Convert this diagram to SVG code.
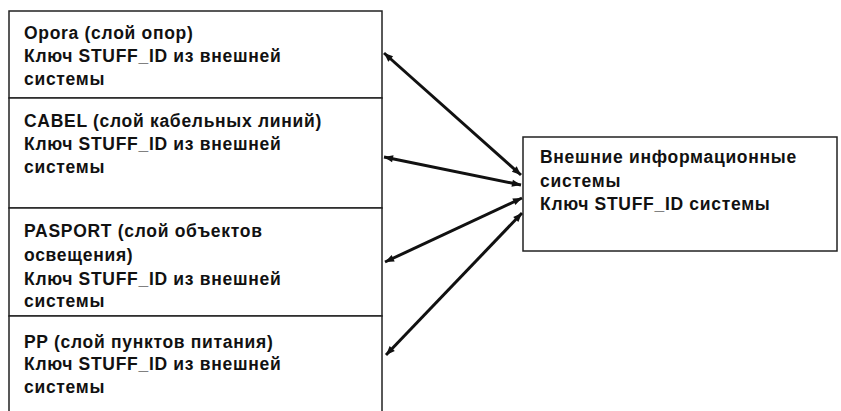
<svg xmlns="http://www.w3.org/2000/svg" width="841" height="411" viewBox="0 0 841 411">
<defs>
<marker id="ah" viewBox="0 0 10 10" refX="10" refY="5" markerWidth="13" markerHeight="9" markerUnits="userSpaceOnUse" orient="auto-start-reverse">
<path d="M0,1 L10,5 L0,9 z" fill="#111"/>
</marker>
<style>
.box{fill:#fff;stroke:#222;stroke-width:1.5}
.t{font-family:"Liberation Sans",Arial,sans-serif;font-size:17.5px;font-weight:bold;letter-spacing:0.7px;fill:#111}
.c{stroke:#111;stroke-width:3;fill:none;marker-start:url(#ah);marker-end:url(#ah)}
</style>
</defs>
<rect width="841" height="411" fill="#fff"/>
<g id="opora">
<rect class="box" x="9" y="11" width="373" height="87"/>
<text class="t" x="24" y="39">Opora (слой опор)</text>
<text class="t" x="24" y="62">Ключ STUFF_ID из внешней</text>
<text class="t" x="24" y="85">системы</text>
</g>
<g id="cabel">
<rect class="box" x="9" y="98" width="373" height="110"/>
<text class="t" x="24" y="127">CABEL (слой кабельных линий)</text>
<text class="t" x="24" y="150">Ключ STUFF_ID из внешней</text>
<text class="t" x="24" y="173">системы</text>
</g>
<g id="pasport">
<rect class="box" x="9" y="208" width="373" height="108"/>
<text class="t" x="24" y="237">PASPORT (слой объектов</text>
<text class="t" x="24" y="261">освещения)</text>
<text class="t" x="24" y="285">Ключ STUFF_ID из внешней</text>
<text class="t" x="24" y="307">системы</text>
</g>
<g id="pp">
<rect class="box" x="9" y="316" width="373" height="105"/>
<text class="t" x="24" y="348">PP (слой пунктов питания)</text>
<text class="t" x="24" y="370">Ключ STUFF_ID из внешней</text>
<text class="t" x="24" y="393">системы</text>
</g>
<g id="ext">
<rect class="box" x="523" y="137" width="314" height="114"/>
<text class="t" x="540" y="163">Внешние информационные</text>
<text class="t" x="540" y="187">системы</text>
<text class="t" x="540" y="210">Ключ STUFF_ID системы</text>
</g>
<g id="connectors">
<line class="c" x1="384" y1="53" x2="521" y2="175"/>
<line class="c" x1="384" y1="157" x2="521" y2="185"/>
<line class="c" x1="385" y1="262" x2="522" y2="198"/>
<line class="c" x1="386" y1="355" x2="522" y2="213"/>
</g>
</svg>
